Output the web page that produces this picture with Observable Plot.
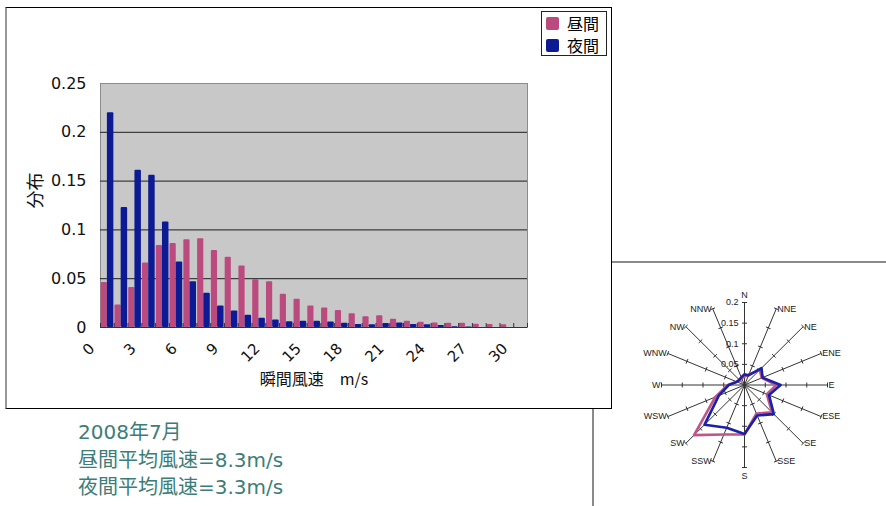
<!DOCTYPE html>
<html><head><meta charset="utf-8">
<script src="https://cdn.jsdelivr.net/npm/d3@7"></script>
<script src="https://cdn.jsdelivr.net/npm/@observablehq/plot@0.6"></script>
<style>
html,body{margin:0;padding:0;background:#fff;}
#page{position:relative;width:886px;height:506px;overflow:hidden;}
#rose{position:absolute;left:592px;top:261px;width:294px;height:245px;border-top:2px solid #8a8a8a;border-left:2px solid #8a8a8a;z-index:1;}
#main{position:absolute;left:5px;top:7px;width:604px;height:400px;border:1px solid #000;border-left:2px solid #999;background:#fff;z-index:2;}
#main svg, #rose svg{position:absolute;left:0;top:0;}
#legend{position:absolute;left:534px;top:3px;width:64px;height:43px;border:1px solid #222;background:#fff;
  font-family:"Noto Sans CJK JP",sans-serif;font-size:16px;color:#000;}
#legend .row{position:absolute;left:4px;height:20px;line-height:20px;display:flex;align-items:center;}
#legend .sw{width:13px;height:13px;border-radius:2px;margin-right:8px;}
#note{position:absolute;left:78px;top:419px;z-index:3;color:#3c7d78;font-family:"DejaVu Sans","Noto Sans CJK JP",sans-serif;font-size:20px;line-height:27.5px;}
</style></head>
<body>
<div id="page">
  <div id="rose"></div>
  <div id="main"><div id="legend"></div></div>
  <div id="note"></div>
</div>
<script>
// ---- data: speed distribution ----
const seriesNames = ["昼間", "夜間"];
const seriesColors = ["#bb4b7e", "#0c1a94"];
const speedCats = [0,1,2,3,4,5,6,7,8,9,10,11,12,13,14,15,16,17,18,19,20,21,22,23,24,25,26,27,28,29,30];
const dayDist = [0.046,0.023,0.041,0.066,0.084,0.086,0.090,0.091,0.079,0.072,0.063,0.049,0.047,0.034,0.029,0.022,0.020,0.0175,0.014,0.011,0.012,0.0084,0.0064,0.0054,0.0047,0.0044,0.0044,0.0034,0.0030,0.0027,0];
const nightDist = [0.220,0.123,0.161,0.156,0.108,0.067,0.047,0.035,0.022,0.017,0.0126,0.0095,0.0078,0.0060,0.0064,0.0064,0.0057,0.0044,0.0030,0.0027,0.0040,0.0047,0.0030,0.0027,0.0020,0.0008,0.0005,0,0,0,0];
const xTickCats = [0,3,6,9,12,15,18,21,24,27,30];
const xTickLabels = ["0","3","6","9","12","15","18","21","24","27","30"];
const yTicks = [0,0.05,0.1,0.15,0.2,0.25];
const yTickLabels = ["0","0.05","0.1","0.15","0.2","0.25"];
const yGrid = [0.05,0.1,0.15,0.2];
const xTitle = "瞬間風速　m/s";
const yTitle = "分布";

// ---- data: wind rose ----
const dirs = ["N","NNE","NE","ENE","E","ESE","SE","SSE","S","SSW","SW","WSW","W","WNW","NW","NNW"];
const roseDay   = [0.020,0.028,0.052,0.045,0.077,0.058,0.094,0.075,0.120,0.130,0.172,0.076,0.040,0.020,0.015,0.018];
const roseNight = [0.026,0.025,0.058,0.047,0.087,0.064,0.100,0.080,0.119,0.112,0.136,0.067,0.038,0.020,0.018,0.020];
const roseTicks = [0.05,0.1,0.15,0.2];
const roseTickLabels = ["0.05","0.1","0.15","0.2"];
const roseMax = 0.2;

const notes = ["2008年7月", "昼間平均風速=8.3m/s", "夜間平均風速=3.3m/s"];

// ---- main bar chart ----
const rows = speedCats.map((c, i) => ({i, c, day: dayDist[i], night: nightDist[i]}));
const bounds = d3.range(speedCats.length + 1);
const latin = "'DejaVu Sans','Noto Sans CJK JP',sans-serif";
const cjk = "'Noto Sans CJK JP',sans-serif";

const main = Plot.plot({
  width: 604, height: 400,
  marginLeft: 93, marginRight: 84, marginTop: 75, marginBottom: 81,
  x: {type: "linear", domain: [0, speedCats.length], axis: null},
  y: {domain: [0, 0.25], axis: null},
  style: {background: "transparent", overflow: "visible", fontFamily: latin, color: "#000"},
  marks: [
    Plot.frame({fill: "#c8c8c8", stroke: "#8c8c8c"}),
    Plot.ruleY(yGrid, {y: d => d, stroke: "#1e1e1e", strokeWidth: 1}),
    Plot.rect(rows, {x1: d => d.i + 0.05, x2: d => d.i + 0.5, y1: () => 0, y2: d => d.day, fill: seriesColors[0], rx: 1}),
    Plot.rect(rows, {x1: d => d.i + 0.5, x2: d => d.i + 0.97, y1: () => 0, y2: d => d.night, fill: seriesColors[1], rx: 1}),
    Plot.ruleX(bounds, {x: d => d, y1: () => 0, y2: () => 0, insetBottom: 4, stroke: "#333"}),
    Plot.ruleY([0], {y: d => d, stroke: "#333", strokeWidth: 1.2}),
    Plot.text(yTicks, {y: d => d, text: (d, i) => yTickLabels[i], frameAnchor: "left", textAnchor: "end", dx: -14, fontSize: 16, fill: "#111"}),
    Plot.text(xTickCats, {x: d => d + 0.5, text: (d, i) => xTickLabels[i], frameAnchor: "bottom", rotate: -45, textAnchor: "end", dx: -12, dy: 22, fontSize: 15, fill: "#111"}),
    Plot.text([xTitle], {text: d => d, frameAnchor: "bottom", dy: 57, fontSize: 16, fontFamily: cjk, fill: "#111"}),
    Plot.text([yTitle], {text: d => d, frameAnchor: "left", rotate: -90, dx: -64, dy: 3, fontSize: 18, fontFamily: cjk, fill: "#111"})
  ]
});
document.getElementById("main").prepend(main);

// legend
const legend = document.getElementById("legend");
seriesNames.forEach((name, k) => {
  const row = document.createElement("div");
  row.className = "row";
  row.style.top = (1 + k * 22) + "px";
  row.innerHTML = `<span class="sw" style="background:${seriesColors[k]}"></span><span>${name}</span>`;
  legend.appendChild(row);
});

// notes
document.getElementById("note").innerHTML = notes.map(t => `<div>${t}</div>`).join("");

// ---- wind rose ----
const ang = i => i * Math.PI / 8;
const polar = (v, i) => ({x: v * Math.sin(ang(i)), y: v * Math.cos(ang(i))});
const dayPts = roseDay.map((v, i) => polar(v, i));
const nightPts = roseNight.map((v, i) => polar(v, i));
const spokes = dirs.map((d, i) => ({name: d, i, ...polar(roseMax, i)}));
const tickLen = 0.006;
const spokeTicks = [];
dirs.forEach((d, i) => roseTicks.forEach(r => {
  const p = polar(r, i);
  const px = Math.cos(ang(i)) * tickLen, py = -Math.sin(ang(i)) * tickLen;
  spokeTicks.push({x1: p.x - px, y1: p.y - py, x2: p.x + px, y2: p.y + py});
}));
const east = spokes.filter(s => s.i > 0 && s.i < 8);
const west = spokes.filter(s => s.i > 8);

const rose = Plot.plot({
  width: 292, height: 243,
  marginLeft: 67, marginRight: 59, marginTop: 39, marginBottom: 39,
  x: {domain: [-roseMax, roseMax], axis: null},
  y: {domain: [-roseMax, roseMax], axis: null},
  style: {background: "transparent", overflow: "visible", fontFamily: "'Liberation Sans',Arial,sans-serif", fontSize: "9px", color: "#222"},
  marks: [
    Plot.link(spokes, {x1: () => 0, y1: () => 0, x2: "x", y2: "y", stroke: "#333", strokeWidth: 1}),
    Plot.link(spokeTicks, {x1: "x1", y1: "y1", x2: "x2", y2: "y2", stroke: "#333", strokeWidth: 1}),
    Plot.line(dayPts, {x: "x", y: "y", curve: "linear-closed", stroke: "#c0558a", strokeWidth: 2.6}),
    Plot.line(nightPts, {x: "x", y: "y", curve: "linear-closed", stroke: "#1a20a8", strokeWidth: 2.6}),
    Plot.text(east, {x: "x", y: "y", text: "name", textAnchor: "start", dx: 1, fill: "#222"}),
    Plot.text(west, {x: "x", y: "y", text: "name", textAnchor: "end", dx: -1, fill: "#222"}),
    Plot.text(spokes.filter(s => s.i === 0), {x: "x", y: "y", text: "name", lineAnchor: "bottom", dy: -5, fill: "#222"}),
    Plot.text(spokes.filter(s => s.i === 8), {x: "x", y: "y", text: "name", lineAnchor: "top", dy: 5, fill: "#222"}),
    Plot.text(roseTicks, {x: () => 0, y: d => d, text: (d, i) => roseTickLabels[i], textAnchor: "end", dx: -6, fill: "#222"})
  ]
});
document.getElementById("rose").appendChild(rose);
</script>
</body></html>
